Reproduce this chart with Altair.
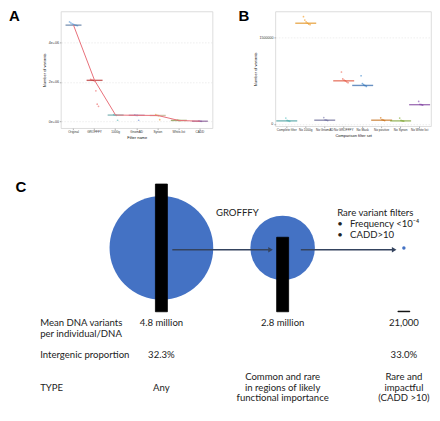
import altair as alt
import pandas as pd

# ---------------- data: panel A ----------------
a_filters = ["Original", "GROFFFY", "1000g", "GnomAD", "Synon", "White-list", "CADD"]
a_medians = [4.86e6, 2.08e6, 0.33e6, 0.32e6, 0.31e6, 0.06e6, 0.021e6]
a_samples = [
    [5.02e6, 4.97e6, 4.93e6, 4.90e6, 4.87e6, 4.85e6, 4.83e6],
    [2.13e6, 2.10e6, 2.08e6, 2.05e6, 1.55e6, 0.88e6, 0.77e6],
    [0.35e6, 0.33e6, 0.32e6, 0.07e6],
    [0.34e6, 0.32e6, 0.31e6, 0.07e6],
    [0.35e6, 0.32e6, 0.30e6, 0.10e6],
    [0.075e6, 0.06e6, 0.05e6],
    [0.028e6, 0.021e6, 0.017e6],
]

# ---------------- data: panel B ----------------
b_sets = ["Complete filter", "No 1000g", "No GnomAD", "No GROFFFY", "No Mask",
          "No positive", "No Synon", "No White list"]
b_medians = [52000, 1746000, 64000, 747000, 667000, 64000, 52000, 333000]
b_samples = [
    [100000, 60000, 52000, 45000],
    [1860000, 1800000, 1770000, 1750000, 1730000, 1720000],
    [110000, 70000, 64000, 58000],
    [900000, 780000, 760000, 745000, 730000, 715000],
    [835000, 700000, 680000, 665000, 650000],
    [105000, 75000, 64000, 58000],
    [100000, 60000, 52000, 46000],
    [390000, 340000, 333000, 325000],
]

# ---------------- data: panel C ----------------
c_counts = [4.8e6, 2.8e6, 21000]
c_count_labels = ["4.8 million", "2.8 million", "21,000"]
c_intergenic = ["32.3%", "", "33.0%"]
c_types = ["Any", "Common and rare\nin regions of likely\nfunctional importance",
           "Rare and\nimpactful\n(CADD >10)"]
c_row_labels = ["Mean DNA variants\nper individual/DNA", "Intergenic proportion", "TYPE"]
c_filter_steps = ["GROFFFY",
                  "Rare variant filters\n\u00a0•\u00a0\u00a0\u00a0Frequency <10\u207b\u2074\n\u00a0•\u00a0\u00a0\u00a0CADD>10"]

# ---------------- styles ----------------
a_point_colors = ["#7fb2e5", "#f08a8a", "#7fc8c8", "#8fa8e0", "#f0b060", "#a8c070", "#b07fc0"]
a_bar_colors = ["#3a5f8f", "#b22222", "#5a9ea0", "#a070a0", "#b8a880", "#7a8a3a", "#7a4a8a"]
b_point_colors = ["#80d0d0", "#f8b050", "#9898c0", "#f08070", "#5a9ad5", "#e09040", "#a0c060", "#a070c0"]
b_bar_colors = ["#3f9a9a", "#e08a10", "#606090", "#e04a30", "#2a62a8", "#c06810", "#78a030", "#7a3a9a"]
C_FONT = "Lato"
C_FS = 9.6


def strip_panel(cats, medians, samples, pt_cols, bar_cols, w, h, ydom, yvals,
                ylab, xtitle, letter, letter_x, tick_len, with_line):
    pts = []
    for c, vals, col in zip(cats, samples, pt_cols):
        n = len(vals)
        for k, v in enumerate(vals):
            pts.append({"cat": c, "v": v, "j": k - (n - 1) / 2, "col": col})
    df_p = pd.DataFrame(pts)
    df_m = pd.DataFrame({"cat": cats, "v": medians, "col": bar_cols, "o": list(range(len(cats)))})
    xs = alt.Scale(domain=cats, paddingInner=0, paddingOuter=0.1)
    ys = alt.Scale(domain=ydom, nice=False, zero=False)
    xaxis = alt.Axis(title=xtitle, labelAngle=0, labelOverlap=False, labelFontSize=3.1)
    yaxis = alt.Axis(title="Number of variants", values=yvals, labelOverlap=False, **ylab)
    points = alt.Chart(df_p).mark_circle(size=3, opacity=0.8).encode(
        x=alt.X("cat:N", sort=cats, scale=xs, axis=xaxis),
        xOffset=alt.XOffset("j:Q", scale=alt.Scale(domain=[-8, 8])),
        y=alt.Y("v:Q", scale=ys, axis=yaxis),
        color=alt.Color("col:N", scale=None),
    )
    ticks = alt.Chart(df_m).mark_tick(thickness=1.4, size=tick_len).encode(
        x=alt.X("cat:N", sort=cats, scale=xs),
        y=alt.Y("v:Q", scale=ys),
        color=alt.Color("col:N", scale=None),
    )
    layers = [points, ticks]
    if with_line:
        layers.append(alt.Chart(df_m).mark_line(color="#e8707a", strokeWidth=1).encode(
            x=alt.X("cat:N", sort=cats, scale=xs),
            y=alt.Y("v:Q", scale=ys),
            order=alt.Order("o:Q"),
        ))
    layers.append(alt.Chart(pd.DataFrame({"t": [letter]})).mark_text(
        align="left", baseline="top", fontSize=15, fontWeight="bold",
        font="Liberation Sans", color="black").encode(
        text="t:N", x=alt.value(letter_x), y=alt.value(-2)))
    return alt.layer(*layers).properties(
        width=w, height=h, view=alt.ViewBackground(stroke="#d4d4d4", strokeWidth=0.8))


panel_a = strip_panel(a_filters, a_medians, a_samples, a_point_colors, a_bar_colors,
                      152, 117, [-0.33e6, 5.55e6], [0, 1e6, 2e6, 3e6, 4e6, 5e6],
                      {"labelExpr": "replace(format(datum.value, '.0e'), 'e+', 'e+0')"},
                      "Filter name", "A", -52, 16, True)
panel_b = strip_panel(b_sets, b_medians, b_samples, b_point_colors, b_bar_colors,
                      156, 115, [-0.04e6, 1.95e6], [0, 500000, 1000000, 1500000],
                      {"format": "d"},
                      "Comparison filter set", "B", -37, 21, False)

# ---------------- panel C ----------------
# layout of the diagram (page pixels)
C_LEFT, C_W, C_TOP, C_H = 60, 360, 172, 232
STEP_PX, COL0_PX = 125, 33.5
x_scale = alt.Scale(domain=[(C_LEFT - COL0_PX) / STEP_PX, (C_LEFT + C_W - COL0_PX) / STEP_PX],
                    nice=False, zero=False)
px_per_variant = 128 / max(c_counts)
BASE_PX = 312
count_scale = alt.Scale(domain=[(BASE_PX - (C_TOP + C_H)) / px_per_variant,
                                (BASE_PX - C_TOP) / px_per_variant], nice=False, zero=False)
LINE_H, LINE0_PX = 11, 318
line_scale = alt.Scale(domain=[(C_TOP - LINE0_PX) / LINE_H, (C_TOP + C_H - LINE0_PX) / LINE_H],
                       nice=False, zero=False, reverse=True)

stage_df = pd.DataFrame({
    "i": [1, 2, 3],
    "count": c_counts,
    "center": [max(c_counts) / 2] * 3,
})
circles = alt.Chart(stage_df).mark_circle(color="#4472C4", opacity=1).encode(
    x=alt.X("i:Q", scale=x_scale, axis=None),
    y=alt.Y("center:Q", scale=count_scale, axis=None),
    size=alt.Size("count:Q", scale=alt.Scale(domain=sorted(c_counts), range=[12, 4180, 10800]),
                  legend=None),
)
bars = alt.Chart(stage_df).mark_bar(size=12, color="black", stroke="black", strokeWidth=0.8).encode(
    x=alt.X("i:Q", scale=x_scale, axis=None),
    y=alt.Y("count:Q", scale=count_scale, axis=None),
    y2=alt.datum(0),
)
arrow_df = pd.DataFrame({
    "x0": [1.09, 2.15],
    "x1": [1.90, 2.92],
    "c": [max(c_counts) / 2 - 0.07e6] * 2,
})
ARROW = "#34435e"
arrows = alt.Chart(arrow_df).mark_rule(color=ARROW, strokeWidth=1.5).encode(
    x=alt.X("x0:Q", scale=x_scale, axis=None),
    x2="x1:Q",
    y=alt.Y("c:Q", scale=count_scale, axis=None),
)
heads = alt.Chart(arrow_df).mark_point(shape="triangle-right", filled=True, size=28,
                                       color=ARROW, opacity=1).encode(
    x=alt.X("x1:Q", scale=x_scale, axis=None),
    y=alt.Y("c:Q", scale=count_scale, axis=None),
)

# table of texts; rows are either top-aligned or centred on a common line
recs = []
row_specs = [(c_row_labels[0], c_count_labels, "top", 0.0),
             (c_row_labels[1], c_intergenic, "top", 2.97),
             (c_row_labels[2], c_types, "centre", 6.36)]
for lab, vals, mode, u in row_specs:
    cells = [(0, lab, "left")] + [(i, v, "center") for i, v in enumerate(vals, start=1) if v]
    for x, t, al in cells:
        n = t.count("\n") + 1
        if mode == "top":
            recs.append({"x": x, "u": u, "t": t, "al": al, "base": "top"})
        else:
            recs.append({"x": x, "u": u - (n - 1) / 2, "t": t, "al": al, "base": "middle"})
# labels of the two filtering steps, placed beside the arrows
recs.append({"x": 1.45, "u": -10.03, "t": c_filter_steps[0], "al": "left", "base": "top"})
recs.append({"x": 2.45, "u": -10.03, "t": c_filter_steps[1], "al": "left", "base": "top"})
text_df = pd.DataFrame(recs)

text_layers = []
for al in ["left", "center"]:
    for base in ["top", "middle"]:
        sub = text_df[(text_df["al"] == al) & (text_df["base"] == base)]
        if len(sub) == 0:
            continue
        text_layers.append(alt.Chart(sub).mark_text(
            align=al, baseline=base, fontSize=C_FS, font=C_FONT, color="#222222",
            lineBreak="\n", lineHeight=LINE_H).encode(
            x=alt.X("x:Q", scale=x_scale, axis=None),
            y=alt.Y("u:Q", scale=line_scale, axis=None),
            text="t:N"))

letter_c = alt.Chart(pd.DataFrame({"t": ["C"], "x": [(8 - COL0_PX) / STEP_PX], "u": [-12.55]})).mark_text(
    align="left", baseline="top", fontSize=15, fontWeight="bold",
    font="Liberation Sans", color="black").encode(
    x=alt.X("x:Q", scale=x_scale, axis=None),
    y=alt.Y("u:Q", scale=line_scale, axis=None),
    text="t:N")

panel_c = alt.layer(circles, bars, arrows, heads, *text_layers, letter_c).resolve_scale(
    y="independent").properties(width=C_W, height=C_H)

chart = alt.vconcat(
    alt.hconcat(panel_a, panel_b, spacing=24),
    panel_c,
    spacing=31,
).properties(padding=0).configure_view(stroke="transparent").configure_axis(
    labelFont="Liberation Sans", titleFont="Liberation Sans",
    labelFontSize=3.6, titleFontSize=4, titleFontWeight="normal",
    labelColor="#333333", titleColor="#111111",
    tickColor="#666666", tickSize=1.5, tickWidth=0.5, domain=False,
    gridColor="#e3e3e3", gridWidth=0.6, gridDash=[1.5, 1.5],
    labelPadding=1, titlePadding=1.5,
)

chart.save("out.html", embed_options={"renderer": "svg", "actions": False})
